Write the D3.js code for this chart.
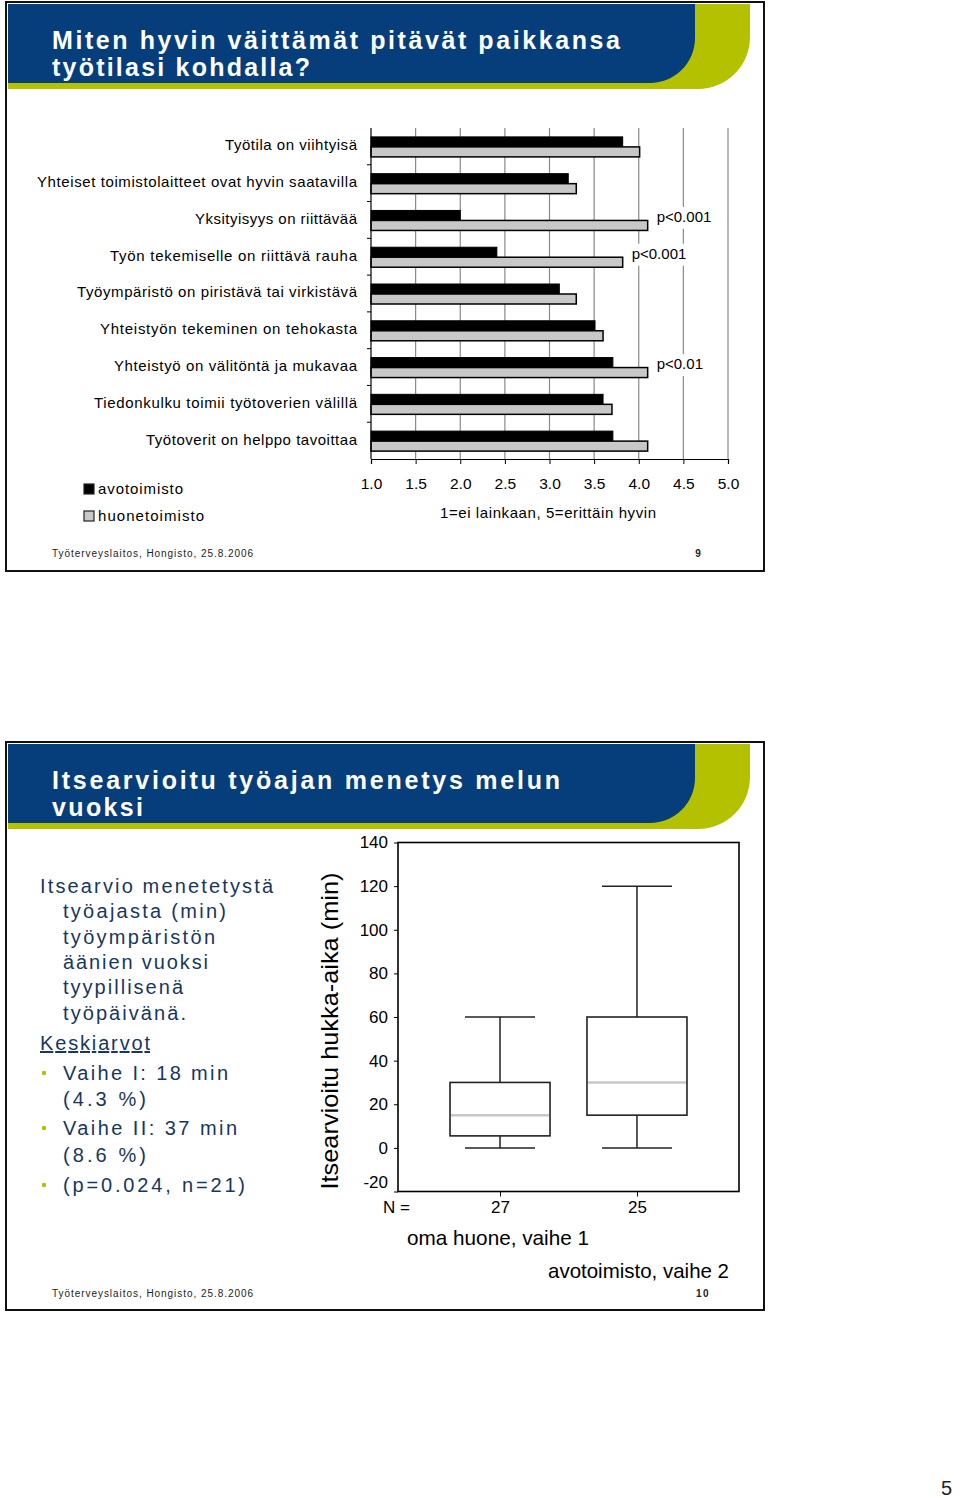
<!DOCTYPE html>
<html><head><meta charset="utf-8">
<script src="https://cdn.jsdelivr.net/npm/d3@7"></script>
<style>
html,body{margin:0;padding:0;background:#fff;}
svg{display:block;font-family:"Liberation Sans",Arial,sans-serif;}
</style></head>
<body>
<svg id="c" width="960" height="1498"></svg>
<script>
// ---------- DATA ----------
const categories = [
  "Työtila on viihtyisä",
  "Yhteiset toimistolaitteet ovat hyvin saatavilla",
  "Yksityisyys on riittävää",
  "Työn tekemiselle on riittävä rauha",
  "Työympäristö on piristävä tai virkistävä",
  "Yhteistyön tekeminen on tehokasta",
  "Yhteistyö on välitöntä ja mukavaa",
  "Tiedonkulku toimii työtoverien välillä",
  "Työtoverit on helppo tavoittaa"
];
const categoryWidths = [132, 320, 162, 247, 280, 257, 243, 263, 211];
const avotoimisto   = [3.82, 3.21, 2.00, 2.41, 3.11, 3.51, 3.71, 3.60, 3.71];
const huonetoimisto = [4.01, 3.30, 4.10, 3.82, 3.30, 3.60, 4.10, 3.70, 4.10];
const pLabels = [null, null, "p<0.001", "p<0.001", null, null, "p<0.01", null, null];
const barTicks = [1.0, 1.5, 2.0, 2.5, 3.0, 3.5, 4.0, 4.5, 5.0];
const seriesNames = ["avotoimisto", "huonetoimisto"];

const boxGroups = ["oma huone, vaihe 1", "avotoimisto, vaihe 2"];
const boxN      = [27, 25];
const boxMin    = [0, 0];
const boxQ1     = [5.5, 15];
const boxMedian = [15, 30];
const boxQ3     = [30, 60];
const boxMax    = [60, 120];
const boxTicks  = [-20, 0, 20, 40, 60, 80, 100, 120, 140];

const titles1 = ["Miten hyvin väittämät pitävät paikkansa", "työtilasi kohdalla?"];
const titles2 = ["Itsearvioitu työajan menetys melun", "vuoksi"];
const footerText = "Työterveyslaitos, Hongisto, 25.8.2006";
const leftText = [
  {t:"Itsearvio menetetystä", ind:0, w:233},
  {t:"työajasta (min)", ind:1, w:163},
  {t:"työympäristön", ind:1, w:152},
  {t:"äänien vuoksi", ind:1, w:145},
  {t:"tyypillisenä", ind:1, w:120},
  {t:"työpäivänä.", ind:1, w:123},
  {t:"Keskiarvot", ind:0, w:110, u:true},
  {t:"Vaihe I: 18 min", ind:1, w:165, b:true},
  {t:"(4.3 %)", ind:1, w:83},
  {t:"Vaihe II: 37 min", ind:1, w:174, b:true},
  {t:"(8.6 %)", ind:1, w:83},
  {t:"(p=0.024, n=21)", ind:1, w:182, b:true}
];

// ---------- STYLE ----------
const BLUE = "#063e7c", LIME = "#b4c100", NAVY = "#17375f";
const NARROW = "'Liberation Sans Narrow','Arial Narrow','Liberation Sans',Arial,sans-serif";
const svg = d3.select("#c");
svg.append("rect").attr("width",960).attr("height",1498).attr("fill","#fff");

function slide(top, titleLines, titleWidths, num) {
  const g = svg.append("g").attr("transform", `translate(0,${top})`);
  g.append("path").attr("fill", LIME)
    .attr("d", "M8,4 H750 V37 A52,52 0 0 1 698,89 H8 Z");
  g.append("path").attr("fill", BLUE)
    .attr("d", "M8,4 H695 V38 A45,45 0 0 1 650,83 H8 Z");
  titleLines.forEach((t,i) => {
    g.append("text").attr("x",52).attr("y",49 + i*27)
      .attr("fill","#fff").attr("font-weight","bold").attr("font-size",25)
      .attr("font-family", NARROW)
      .attr("textLength", titleWidths[i]).attr("lengthAdjust","spacing")
      .text(t);
  });
  g.append("rect").attr("x",6).attr("y",2).attr("width",758).attr("height",569 - (top>0?1:0))
    .attr("fill","none").attr("stroke","#111").attr("stroke-width",2);
  g.append("text").attr("x",52).attr("y",557).attr("font-size",10).attr("fill","#222")
    .attr("textLength",201).attr("lengthAdjust","spacing").text(footerText);
  g.append("text").attr("x", num < 10 ? 698 : 703).attr("y",557).attr("font-size",10)
    .attr("font-weight","bold").attr("text-anchor","middle").attr("fill","#222")
    .attr("letter-spacing", num < 10 ? 0 : 1.5).text(num);
  return g;
}

slide(0, titles1, [568, 258], 9);
slide(740, titles2, [508, 91], 10);

// ---------- BAR CHART ----------
const x = d3.scaleLinear().domain([1,5]).range([371,728]);
const y = d3.scaleBand().domain(categories).range([128,459]).padding(0);
const bh = 10;
const bc = svg.append("g");

// gridlines
bc.selectAll("line.grid").data(barTicks.slice(1)).join("line")
  .attr("x1", d=>x(d)).attr("x2", d=>x(d)).attr("y1",128).attr("y2",459)
  .attr("stroke","#8a8a8a").attr("stroke-width",1.2);

// p label backgrounds + texts
const pl = categories.map((c,i)=>({c, v:huonetoimisto[i], p:pLabels[i]})).filter(d=>d.p);
bc.selectAll("rect.pbg").data(pl).join("rect")
  .attr("x", d=>x(d.v)+6).attr("y", d=>y(d.c)+y.bandwidth()/2-13)
  .attr("width",66).attr("height",22).attr("fill","#fff");
bc.selectAll("text.p").data(pl).join("text")
  .attr("x", d=>x(d.v)+9).attr("y", d=>y(d.c)+y.bandwidth()/2-2)
  .attr("dominant-baseline","middle").attr("font-size",15).attr("fill","#000")
  .text(d=>d.p);

// bars
bc.selectAll("rect.a").data(avotoimisto).join("rect")
  .attr("x", x(1)).attr("y",(d,i)=>y(categories[i])+y.bandwidth()/2-bh+0.5)
  .attr("width", d=>x(d)-x(1)).attr("height",bh)
  .attr("fill","#000").attr("stroke","#000").attr("stroke-width",1);
bc.selectAll("rect.h").data(huonetoimisto).join("rect")
  .attr("x", x(1)).attr("y",(d,i)=>y(categories[i])+y.bandwidth()/2+0.5)
  .attr("width", d=>x(d)-x(1)).attr("height",bh)
  .attr("fill","#c8c8c8").attr("stroke","#000").attr("stroke-width",1.5);

// left axis
const yAxis = bc.append("g").attr("transform","translate(371,0)");
yAxis.append("line").attr("y1",128).attr("y2",459).attr("stroke","#000").attr("stroke-width",1.2);
yAxis.selectAll("line.t").data(categories.slice(1)).join("line")
  .attr("x1",-4).attr("x2",0).attr("y1",d=>y(d)).attr("y2",d=>y(d)).attr("stroke","#000");
bc.selectAll("text.cat").data(categories).join("text")
  .attr("x",357).attr("y",d=>y(d)+y.bandwidth()/2)
  .attr("dominant-baseline","middle").attr("text-anchor","end")
  .attr("font-size",15).attr("fill","#000")
  .attr("textLength",(d,i)=>categoryWidths[i]).attr("lengthAdjust","spacing")
  .text(d=>d);

// bottom axis
const xAxis = d3.axisBottom(x).tickValues(barTicks).tickFormat(d3.format(".1f")).tickSize(5).tickPadding(14);
const xg = bc.append("g").attr("transform","translate(0,459)").call(xAxis);
xg.select(".domain").attr("stroke","#000").attr("stroke-width",1.2);
xg.selectAll("text").attr("font-size",15.5).attr("font-family","Liberation Sans, Arial, sans-serif").attr("fill","#000");
bc.append("text").attr("x",548).attr("y",518).attr("text-anchor","middle")
  .attr("font-size",15).attr("textLength",216).attr("lengthAdjust","spacing")
  .text("1=ei lainkaan, 5=erittäin hyvin");

// legend
const lg = bc.selectAll("g.lg").data(seriesNames).join("g")
  .attr("transform",(d,i)=>`translate(84,${484 + i*27})`);
lg.append("rect").attr("width",10).attr("height",10)
  .attr("fill",(d,i)=> i===0 ? "#000" : "#c8c8c8").attr("stroke","#222").attr("stroke-width",1.2);
lg.append("text").attr("x",14).attr("y",6).attr("dominant-baseline","middle")
  .attr("font-size",15).attr("textLength",(d,i)=> i===0 ? 85 : 106).attr("lengthAdjust","spacing")
  .text(d=>d);

// ---------- BOX PLOT ----------
const by = d3.scaleLinear().domain([-20,140]).range([1191.5,842.5]);
const bx = d3.scalePoint().domain(boxGroups).range([398,739]).padding(0.745);
const bp = svg.append("g");
const boxW = 100, capW = 70;

bp.append("rect").attr("x",398).attr("y",842.5).attr("width",341).attr("height",349)
  .attr("fill","none").attr("stroke","#000").attr("stroke-width",1.6);

const yAx = d3.axisLeft(by).tickValues(boxTicks).tickFormat(d=>String(d)).tickSize(4).tickPadding(6);
const yag = bp.append("g").attr("transform","translate(398,0)").call(yAx);
yag.select(".domain").remove();
yag.selectAll("text").attr("font-size",17).attr("font-family","Liberation Sans, Arial, sans-serif").attr("fill","#000")
  .attr("dy", d => d === boxTicks[0] ? "-0.25em" : "0.32em");

const xAx = d3.axisBottom(bx).tickSize(5).tickFormat((d,i)=>boxN[i]).tickPadding(4);
const xag = bp.append("g").attr("transform","translate(0,1191.5)").call(xAx);
xag.select(".domain").remove();
xag.selectAll("text").attr("font-size",17).attr("font-family","Liberation Sans, Arial, sans-serif").attr("fill","#000");
bp.append("text").attr("x",383).attr("y",1213).attr("font-size",17).text("N =");

const boxes = bp.selectAll("g.box").data(boxGroups).join("g");
boxes.append("line").attr("x1",d=>bx(d)).attr("x2",d=>bx(d))
  .attr("y1",(d,i)=>by(boxMax[i])).attr("y2",(d,i)=>by(boxMin[i]))
  .attr("stroke","#222").attr("stroke-width",1.5);
boxes.append("line").attr("x1",d=>bx(d)-capW/2).attr("x2",d=>bx(d)+capW/2)
  .attr("y1",(d,i)=>by(boxMax[i])).attr("y2",(d,i)=>by(boxMax[i]))
  .attr("stroke","#222").attr("stroke-width",1.5);
boxes.append("line").attr("x1",d=>bx(d)-capW/2).attr("x2",d=>bx(d)+capW/2)
  .attr("y1",(d,i)=>by(boxMin[i])).attr("y2",(d,i)=>by(boxMin[i]))
  .attr("stroke","#222").attr("stroke-width",1.5);
boxes.append("rect").attr("x",d=>bx(d)-boxW/2).attr("width",boxW)
  .attr("y",(d,i)=>by(boxQ3[i])).attr("height",(d,i)=>by(boxQ1[i])-by(boxQ3[i]))
  .attr("fill","#fff").attr("stroke","#222").attr("stroke-width",1.6);
boxes.append("line").attr("x1",d=>bx(d)-boxW/2+1).attr("x2",d=>bx(d)+boxW/2-1)
  .attr("y1",(d,i)=>by(boxMedian[i])).attr("y2",(d,i)=>by(boxMedian[i]))
  .attr("stroke","#c8c8c8").attr("stroke-width",2.5);

// group names
bp.append("text").attr("x",407).attr("y",1245).attr("font-size",21)
  .attr("textLength",182).attr("lengthAdjust","spacingAndGlyphs").text(boxGroups[0]);
bp.append("text").attr("x",729).attr("y",1278).attr("font-size",21).attr("text-anchor","end")
  .attr("textLength",181).attr("lengthAdjust","spacingAndGlyphs").text(boxGroups[1]);

// y title
bp.append("text").attr("transform","translate(338,1031) rotate(-90)")
  .attr("text-anchor","middle").attr("font-size",24)
  .attr("textLength",317).attr("lengthAdjust","spacingAndGlyphs")
  .text("Itsearvioitu hukka-aika (min)");

// left text block
const baselines = [893, 918, 944, 969, 994, 1020, 1050, 1080, 1106, 1135, 1162, 1192];
leftText.forEach((d,i) => {
  const xx = d.ind ? 63 : 40;
  bp.append("text").attr("x",xx).attr("y",baselines[i]).attr("font-size",20)
    .attr("fill",NAVY).attr("textLength",d.w).attr("lengthAdjust","spacing")
    .attr("text-decoration", d.u ? "underline" : null).text(d.t);
  if (d.b) bp.append("circle").attr("cx",44).attr("cy",baselines[i]-7).attr("r",2.2).attr("fill",LIME);
});

// page number
svg.append("text").attr("x",941).attr("y",1495).attr("font-size",20).attr("fill","#222").text("5");
</script>
</body></html>
